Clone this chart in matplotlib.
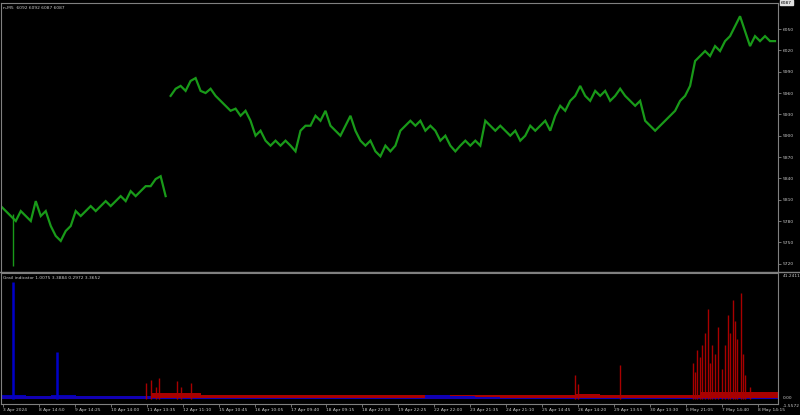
import matplotlib
matplotlib.use("Agg")
import matplotlib.pyplot as plt
import matplotlib.transforms as mtransforms
import numpy as np

# ---- data (bar index units; one index = one sampled bar) ----
price = [5801, 5794, 5787, 5780, 5794, 5787, 5780, 5808, 5787, 5794,
         5773, 5759, 5752, 5766, 5773, 5794, 5787, 5794, 5801, 5794,
         5801, 5808, 5801, 5808, 5815, 5808, 5822, 5815, 5822, 5829,
         5829, 5839, 5843, 5815,
         5956, 5966, 5970, 5963, 5977, 5981, 5963, 5960, 5966, 5956,
         5949, 5942, 5935, 5938, 5928, 5935, 5921, 5900, 5907, 5893,
         5886, 5893, 5886, 5893, 5886, 5878, 5907, 5914, 5914, 5928,
         5921, 5935, 5914, 5907, 5900, 5914, 5928, 5907, 5893, 5886,
         5893, 5878, 5871, 5886, 5878, 5886, 5907, 5914, 5921, 5914,
         5921, 5907, 5914, 5907, 5893, 5900, 5886, 5878, 5886, 5893,
         5886, 5893, 5886, 5921, 5914, 5907, 5914, 5907, 5900, 5907,
         5893, 5900, 5914, 5907, 5914, 5921, 5907, 5928, 5942, 5935,
         5949, 5956, 5970, 5956, 5949, 5963, 5956, 5963, 5949, 5956,
         5966, 5956, 5949, 5942, 5949, 5921, 5914, 5907, 5914, 5921,
         5928, 5935, 5949, 5956, 5970, 6005, 6012, 6019, 6012, 6026,
         6019, 6033, 6040, 6054, 6068, 6047, 6026, 6040, 6033, 6040,
         6033, 6033]
gap_index = 34          # weekend gap: first bar of second segment
wick_x = [2.4]
wick_low = [5717]
wick_high = [5790]

price_ticks = [6050, 6020, 5990, 5960, 5930, 5900, 5870, 5840, 5810, 5780, 5750, 5720]
last_price = 6087

# indicator
blue_spike_x = [2.4, 11.2]
blue_spike_v = [39.0, 15.8]
red_spike_x = [29.0, 30.0, 31.0, 31.6, 35.2, 36.0, 38.0, 115.0, 115.6, 124.0,
               138.6, 139.0, 139.4, 140.0, 140.4, 141.0, 141.6, 142.0, 142.4,
               143.0, 143.6, 144.4, 145.0, 145.6, 146.0, 146.6, 147.0, 147.4,
               148.2, 148.6, 149.0, 150.0]
red_spike_v = [5.5, 6.6, 4.0, 7.0, 6.0, 4.0, 5.5, 8.0, 5.0, 11.5,
               12.0, 9.0, 16.5, 14.0, 18.0, 22.0, 30.0, 12.0, 18.0,
               15.0, 24.0, 10.0, 18.0, 28.0, 22.0, 33.0, 26.0, 20.0,
               35.6, 15.0, 8.0, 4.0]
band_x = [0, 5, 10, 15, 20, 25, 30, 35, 40, 45, 50, 55, 60, 65, 70, 75, 80,
          85, 90, 95, 100, 105, 110, 115, 120, 125, 130, 135, 140, 145, 150, 155, 156]
red_band = [1.0, 1.0, 1.0, 1.0, 1.0, 1.0, 2.0, 2.0, 1.5, 1.5, 1.5, 1.5, 1.5,
            1.5, 1.5, 1.5, 1.5, 1.5, 1.5, 1.5, 1.5, 1.5, 1.5, 1.8, 1.5, 1.5,
            1.5, 1.5, 2.5, 2.5, 2.5, 2.5, 2.5]
blue_band = [1.3, 1.2, 1.3, 1.2, 1.2, 1.1, 0.5, 0.5, 0.5, 0.5, 0.5, 0.5, 0.5,
             0.5, 0.5, 0.5, 0.5, 1.3, 1.2, 0.8, 0.5, 0.5, 0.5, 0.5, 0.5, 0.5,
             0.5, 0.5, 0.5, 0.5, 0.5, 0.5, 0.5]
ind_top = 41.2411
ind_bottom = -1.5572

x_tick_labels = ["3 Apr 2024", "8 Apr 14:50", "9 Apr 14:25", "10 Apr 14:00",
                 "11 Apr 13:35", "12 Apr 11:10", "15 Apr 10:45", "16 Apr 10:05",
                 "17 Apr 09:40", "18 Apr 09:15", "18 Apr 22:50", "19 Apr 22:25",
                 "22 Apr 22:00", "23 Apr 21:35", "24 Apr 21:10", "25 Apr 14:45",
                 "26 Apr 14:20", "29 Apr 13:55", "30 Apr 13:30", "6 May 21:05",
                 "7 May 14:40", "8 May 14:15"]
x_tick_pos = [0.4 + 7.2 * k for k in range(len(x_tick_labels))]

title_text = "n,M5  6092 6092 6087 6087"
ind_text = "Grail indicator 1.0075 3.3884 0.2972 3.3652"

# ---- style ----
BG = "black"
GRID = "#808080"
TXT = "#c8c8c8"
GREEN = "#199a19"
RED = "#a80000"
BLUE = "#0000c8"
FS = 3.2

W, H = 800, 415
fig = plt.figure(figsize=(8, 4.15), dpi=100, facecolor=BG)
right = 778 / W
ax1 = fig.add_axes([0.001, 1 - 271 / H, right - 0.001, 268 / H], facecolor=BG)
ax2 = fig.add_axes([0.001, 1 - 404 / H, right - 0.001, 131 / H], facecolor=BG)

xs = np.arange(len(price))
ax1.plot(xs[:gap_index], price[:gap_index], color=GREEN, lw=1.6, solid_joinstyle="miter")
ax1.plot(xs[gap_index:], price[gap_index:], color=GREEN, lw=1.6, solid_joinstyle="miter")
ax1.vlines(wick_x, wick_low, wick_high, color=GREEN, lw=1.0)
ax1.set_xlim(0, 155.6)
ax1.set_ylim(5709.7, 6086.6)

for ax in (ax1, ax2):
    for s in ax.spines.values():
        s.set_color(GRID)
        s.set_linewidth(0.8)
ax1.spines["bottom"].set_visible(False)

ax1.yaxis.tick_right()
ax1.set_yticks(price_ticks)
ax1.set_yticklabels([str(v) for v in price_ticks])
ax1.tick_params(axis="y", colors=GRID, labelcolor=TXT, labelsize=FS, length=2, width=0.6, pad=1.5)
ax1.set_xticks([])

trans = mtransforms.blended_transform_factory(ax1.transAxes, ax1.transData)
ax1.text(1.004, last_price, str(last_price), transform=trans, fontsize=FS, color="black",
         va="center", ha="left",
         bbox=dict(boxstyle="square,pad=0.15", fc="#e0e0e0", ec="#e0e0e0"))
ax1.text(0.003, 0.988, title_text, transform=ax1.transAxes, fontsize=FS, color=TXT, va="top", ha="left")

# indicator panel
ax2.fill_between(band_x, 0, red_band, step="post", color=RED, lw=0)
ax2.fill_between(band_x, 0, blue_band, step="post", color=BLUE, lw=0, alpha=0.9)
ax2.vlines(red_spike_x, 0, red_spike_v, color=RED, lw=1.0)
ax2.vlines(blue_spike_x, 0, blue_spike_v, color=BLUE, lw=1.8)
ax2.set_xlim(0, 155.6)
ax2.set_ylim(ind_bottom, ind_top + 0.9)
ax2.set_yticks([])
ax2.set_xticks(x_tick_pos)
ax2.set_xticklabels(x_tick_labels, ha="left")
ax2.tick_params(axis="x", colors=GRID, labelcolor=TXT, labelsize=FS, length=2, width=0.6, pad=1)
ax2.text(0.003, 0.975, ind_text, transform=ax2.transAxes, fontsize=FS, color=TXT, va="top", ha="left")

trans2 = mtransforms.blended_transform_factory(ax2.transAxes, ax2.transData)
ax2.text(1.006, ind_top, "41.2411", transform=trans2, fontsize=FS, color=TXT, va="center", ha="left")
ax2.text(1.006, 0.5, "0.00", transform=trans2, fontsize=FS, color=TXT, va="center", ha="left")
ax2.text(1.006, ind_bottom - 0.6, "-1.5572", transform=trans2, fontsize=FS, color=TXT, va="center", ha="left")

# separator line between panels across the full width
fig.add_artist(plt.Line2D([0, 1], [1 - 272 / H, 1 - 272 / H], transform=fig.transFigure,
                          color=GRID, lw=1.0))

fig.savefig("out.png", dpi=100, facecolor=BG)
